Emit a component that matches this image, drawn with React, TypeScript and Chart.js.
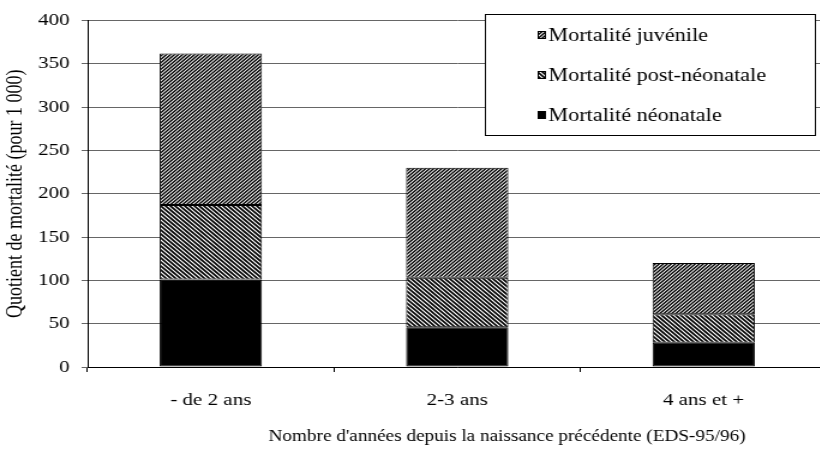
import React, { useEffect, useRef } from 'react';
import { Chart, registerables } from 'chart.js';

Chart.register(...registerables);

const categories = ['- de 2 ans', '2-3 ans', '4 ans et +'];
const neonatale = [101, 46, 28];
const postNeonatale = [86, 57, 33];
const juvenile = [175, 127, 59];
const seriesLabels = ['Mortalité néonatale', 'Mortalité post-néonatale', 'Mortalité juvénile'];
const yTickValues = [0, 50, 100, 150, 200, 250, 300, 350, 400];
const yTitle = 'Quotient de mortalité (pour 1 000)';
const xTitle = "Nombre d'années depuis la naissance précédente (EDS-95/96)";

const STRETCH = 1.2;
const W = 689;
const H = 453;
const FONT = "'Liberation Serif', 'Times New Roman', serif";

function makeHatch(dir: 'fwd' | 'back', tile: number, lines: number, lw: number) {
  const c = document.createElement('canvas');
  c.width = tile;
  c.height = tile;
  const g = c.getContext('2d')!;
  g.fillStyle = '#fff';
  g.fillRect(0, 0, tile, tile);
  g.strokeStyle = '#000';
  g.lineWidth = lw;
  const p = tile / lines;
  g.beginPath();
  for (let k = -2; k <= 2 * lines + 2; k++) {
    const c0 = k * p;
    if (dir === 'fwd') {
      g.moveTo(-tile, c0 + tile);
      g.lineTo(2 * tile, c0 - 2 * tile);
    } else {
      const d = c0 - tile;
      g.moveTo(-tile, d - tile);
      g.lineTo(2 * tile, d + 2 * tile);
    }
  }
  g.stroke();
  return g.createPattern(c, 'repeat')!;
}

const legendPlugin = {
  id: 'boxLegend',
  afterDraw(chart: any) {
    const ctx = chart.ctx as CanvasRenderingContext2D;
    const x0 = 404, x1 = 679, y0 = 14, y1 = 135;
    ctx.save();
    ctx.fillStyle = '#fff';
    ctx.fillRect(x0, y0, x1 - x0, y1 - y0);
    ctx.strokeStyle = '#000';
    ctx.lineWidth = 1;
    ctx.strokeRect(x0 + 0.5, y0 + 0.5, x1 - x0, y1 - y0);
    const ds = chart.data.datasets;
    const rows = [2, 1, 0];
    const ys = [35, 75, 115];
    ctx.font = `18.5px ${FONT}`;
    ctx.textBaseline = 'middle';
    ctx.textAlign = 'left';
    rows.forEach((di, i) => {
      const y = ys[i];
      ctx.fillStyle = ds[di].backgroundColor;
      ctx.fillRect(448, y - 4, 7, 8);
      ctx.strokeStyle = '#000';
      ctx.strokeRect(448.5, y - 3.5, 6, 7);
      ctx.fillStyle = '#000';
      ctx.fillText(ds[di].label, 457, y + 1);
    });
    // x axis title (centred on the full original figure)
    ctx.font = `16px ${FONT}`;
    ctx.textAlign = 'center';
    ctx.textBaseline = 'middle';
    ctx.fillStyle = '#000';
    ctx.fillText(xTitle, 422.5, 437);
    ctx.restore();
  },
};

export default function App() {
  const ref = useRef<HTMLCanvasElement>(null);

  useEffect(() => {
    document.body.style.overflow = 'hidden';
    const canvas = ref.current!;
    const juvPattern = makeHatch('fwd', 10, 3, 1.4);
    const postPattern = makeHatch('back', 12, 3, 1.6);
    const chart = new Chart(canvas, {
      type: 'bar',
      data: {
        labels: categories,
        datasets: [
          { label: seriesLabels[0], data: neonatale, backgroundColor: '#000', borderColor: '#000', borderWidth: 1, borderSkipped: false },
          { label: seriesLabels[1], data: postNeonatale, backgroundColor: postPattern as any, borderColor: '#000', borderWidth: 1, borderSkipped: false },
          { label: seriesLabels[2], data: juvenile, backgroundColor: juvPattern as any, borderColor: '#000', borderWidth: 1, borderSkipped: false },
        ],
      },
      options: {
        animation: false,
        responsive: false,
        layout: { padding: { top: 14, right: 0, left: 0, bottom: 0 } },
        datasets: { bar: { categoryPercentage: 1, barPercentage: 0.415 } },
        plugins: { legend: { display: false }, tooltip: { enabled: false } },
        scales: {
          x: {
            stacked: true,
            offset: true,
            grid: { display: true, drawOnChartArea: false, drawTicks: true, tickLength: 5, color: '#000', offset: true },
            border: { display: true, color: '#000', width: 1 },
            ticks: { color: '#000', font: { family: FONT, size: 17.5 }, padding: 18, maxRotation: 0 },
            afterFit: (s: any) => { s.height = H - 367; },
          },
          y: {
            stacked: true,
            min: 0,
            max: 400,
            afterBuildTicks: (s: any) => { s.ticks = yTickValues.map((v) => ({ value: v })); },
            grid: { color: '#666', lineWidth: 1, tickLength: 5, drawTicks: true },
            border: { display: true, color: '#000', width: 1 },
            ticks: { color: '#000', font: { family: FONT, size: 17.5 }, padding: 10 },
            title: { display: true, text: yTitle, color: '#000', font: { family: FONT, size: 18 }, padding: { top: 2, bottom: 0 } },
            afterFit: (s: any) => { s.width = 73; },
          },
        },
      },
      plugins: [legendPlugin],
    });
    return () => chart.destroy();
  }, []);

  return (
    <div style={{ position: 'fixed', left: 0, top: 0, width: 820, height: 453, overflow: 'hidden', background: '#fff' }}>
      <div style={{ width: W, height: H, transform: `scaleX(${STRETCH})`, transformOrigin: '0 0' }}>
        <canvas ref={ref} width={W} height={H} style={{ display: 'block' }} />
      </div>
    </div>
  );
}
